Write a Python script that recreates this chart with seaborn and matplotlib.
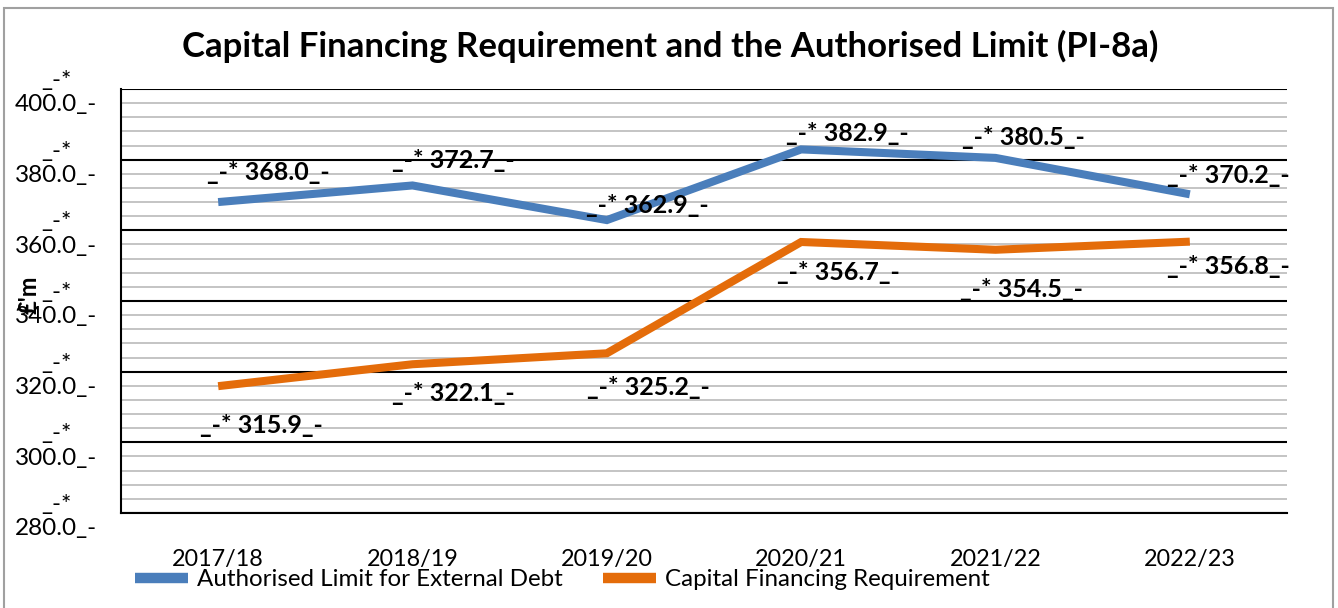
import numpy as np
import pandas as pd
import matplotlib
matplotlib.use("Agg")
import matplotlib.pyplot as plt
from matplotlib.lines import Line2D
from matplotlib.patches import Rectangle
import seaborn as sns

# chart data
years = ["2017/18", "2018/19", "2019/20", "2020/21", "2021/22", "2022/23"]
auth_limit = [368.0, 372.7, 362.9, 382.9, 380.5, 370.2]
cfr = [315.9, 322.1, 325.2, 356.7, 354.5, 356.8]
series_names = ["Authorised Limit for External Debt", "Capital Financing Requirement"]
y_ticks = [280, 300, 320, 340, 360, 380, 400]

colors = ["#4A7EBB", "#E46C0A"]

df = pd.DataFrame({
    "Year": years * 2,
    "Value": auth_limit + cfr,
    "Series": [series_names[0]] * len(years) + [series_names[1]] * len(years),
})

sns.set_style("white")
plt.rcParams["font.family"] = ["Lato", "DejaVu Sans"]
plt.rcParams["text.color"] = "black"
plt.rcParams["axes.labelcolor"] = "black"
plt.rcParams["xtick.color"] = "black"
plt.rcParams["ytick.color"] = "black"

fig = plt.figure(figsize=(13.38, 6.08), dpi=100)
ax = fig.add_axes([121 / 1338, 1 - 513 / 608, (1287 - 121) / 1338, (513 - 89) / 608])

sns.lineplot(data=df, x="Year", y="Value", hue="Series", palette=colors,
             sort=False, lw=5.8, legend=False, ax=ax, zorder=3,
             solid_capstyle="butt", solid_joinstyle="miter")

ax.set_xlim(-0.5, len(years) - 0.5)
ax.set_ylim(280, 400)

# y axis
ax.set_yticks(y_ticks)
ax.set_yticklabels([f"_-*\n{v:.1f}_-" for v in y_ticks], multialignment="center")
ax.set_yticks(np.arange(280, 401, 4), minor=True)
ax.tick_params(axis="y", which="major", direction="out", length=6, width=1.5,
               labelsize=17.5, pad=11)
ax.tick_params(axis="y", which="minor", length=0)
ax.grid(axis="y", which="major", color="black", lw=1.5)
ax.grid(axis="y", which="minor", color="#BFBFBF", lw=1.3)
ax.set_axisbelow(True)

# x axis
ax.set_xticks(range(len(years)))
ax.set_xticklabels(years)
ax.set_xticks(np.arange(-0.5, len(years)), minor=True)
ax.tick_params(axis="x", which="major", length=0, labelsize=16.8, pad=26)
ax.tick_params(axis="x", which="minor", direction="out", length=6, width=1.5)
ax.set_xlabel("")
ax.set_ylabel("£'m", fontsize=17, fontweight="bold")
ax.yaxis.set_label_coords((41 - 121) / 1166, (513 - 295) / 424)

for side in ["top", "right"]:
    ax.spines[side].set_visible(False)
ax.spines["left"].set_color("black")
ax.spines["left"].set_linewidth(1.5)
ax.spines["bottom"].set_color("black")
ax.spines["bottom"].set_linewidth(1.5)

# data labels
blue_dx = [-11, -20, -21, -15, -34, -23]
blue_dy = [30, 25, 15, 16, 20, 19]
orange_dx = [-18, -21, -20, -24, -36, -23]
orange_dy = [39, 29, 34, 31, 40, 25]
for i, v in enumerate(auth_limit):
    ax.annotate(f"_-* {v:.1f}_-", (i, v), xytext=(blue_dx[i], blue_dy[i]),
                textcoords="offset pixels", ha="left", va="center",
                fontsize=18, fontweight="bold", zorder=4)
for i, v in enumerate(cfr):
    ax.annotate(f"_-* {v:.1f}_-", (i, v), xytext=(orange_dx[i], -orange_dy[i]),
                textcoords="offset pixels", ha="left", va="center",
                fontsize=18, fontweight="bold", zorder=4, annotation_clip=False)

fig.suptitle("Capital Financing Requirement and the Authorised Limit (PI-8a)",
             x=670 / 1338, y=1 - 46 / 608, va="center", fontsize=25, fontweight="bold")

handles = [Line2D([], [], color=c, lw=7.5, solid_capstyle="butt") for c in colors]
fig.legend(handles, series_names, loc="center left",
           bbox_to_anchor=(135 / 1338, 1 - 580 / 608), ncol=2, frameon=False,
           fontsize=17.4, handlelength=2.2, handletextpad=0.37, columnspacing=1.65,
           borderpad=0, borderaxespad=0)

fig.patches.append(Rectangle((4 / 1338, -0.01), 1329 / 1338, 1 - 8 / 608 + 0.01,
                             transform=fig.transFigure, fill=False,
                             edgecolor="#A0A0A0", lw=1.5))

fig.savefig("out.png", dpi=100)
